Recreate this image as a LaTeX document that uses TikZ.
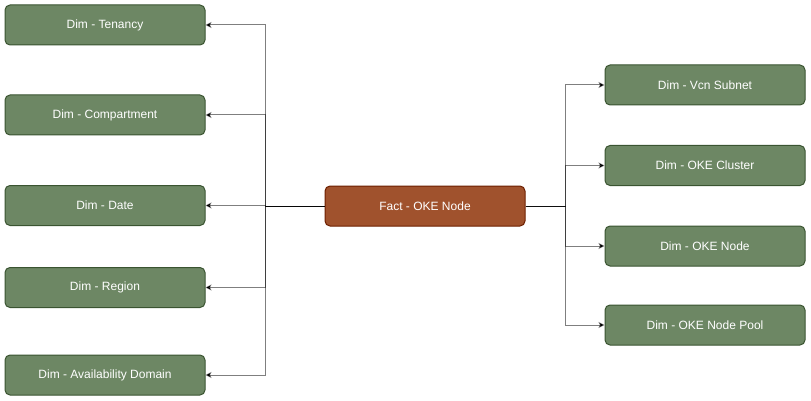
\documentclass[tikz,border=0pt]{standalone}
\usepackage{fontspec}
\setmainfont{Liberation Sans}
\definecolor{DIM_Color}{RGB}{109, 135, 100}
\definecolor{DIM_Line}{RGB}{58, 84, 49}
\definecolor{FACT_Color}{RGB}{160, 82, 45}
\definecolor{FACT_Line}{RGB}{109, 31, 0}
\usetikzlibrary{positioning, arrows.meta, calc}
\tikzset{
    dim node/.style={rectangle, rounded corners=5pt, draw=DIM_Line, fill=DIM_Color, line width=1pt,
        minimum width=200pt, minimum height=40pt, inner sep=0, text=white, font=\fontsize{12}{14}\selectfont},
    fact node/.style={dim node, draw=FACT_Line, fill=FACT_Color},
    link/.style={draw=black, draw opacity=0.5, line width=1pt, -{Stealth[length=6pt,width=6pt,inset=1.5pt]}},
    }

\begin{document}
\begin{tikzpicture}
    [x=1pt, y=-1pt]
\useasboundingbox (0,0) rectangle (811,401);

\node[fact node] (fact) at (425,206) {Fact - OKE Node};

\node[dim node] (ten) at (105,25) {Dim - Tenancy};
\node[dim node] (comp) at (105,115) {Dim - Compartment};
\node[dim node] (date) at (105,205.5) {Dim - Date};
\node[dim node] (reg) at (105,287.5) {Dim - Region};
\node[dim node] (ad) at (105,375) {Dim - Availability Domain};

\node[dim node] (vcn) at (705,85) {Dim - Vcn Subnet};
\node[dim node] (clus) at (705,165.5) {Dim - OKE Cluster};
\node[dim node] (okenode) at (705,246) {Dim - OKE Node};
\node[dim node] (pool) at (705,325) {Dim - OKE Node Pool};

\coordinate (ljoin) at (265,206);
\coordinate (rjoin) at (565,206);

\foreach \d in {ten, comp, date, reg, ad}
    \draw[link] (fact.west) -- (ljoin) |- (\d.east);
\foreach \d in {vcn, clus, okenode, pool}
    \draw[link] (fact.east) -- (rjoin) |- (\d.west);
\end{tikzpicture}
\end{document}
